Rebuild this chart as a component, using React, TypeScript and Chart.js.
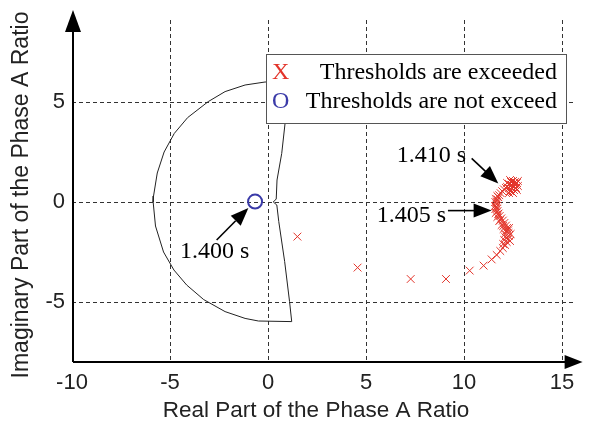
import React, { useEffect, useRef } from 'react';
import { Chart, registerables } from 'chart.js';

Chart.register(...registerables);

// ---- data ----
const xTicks = [-10, -5, 0, 5, 10, 15];
const yTicks = [-5, 0, 5];

// protection boundary (real, imaginary)
const boundaryRe = [-0.15, -1.17, -2.19, -3.05, -4.1, -4.78, -5.3, -5.65, -5.84, -5.86, -5.74, -5.33, -4.8, -4.15, -3.28, -2.19, -1.17, -0.49, 1.21, 1.1, 0.85, 0.55, 0.45, 0.27, 0.42, 0.46, 0.7, 0.87, 1.1, -0.15];
const boundaryIm = [6.0, 5.85, 5.52, 5.02, 4.22, 3.43, 2.5, 1.45, 0.3, 0.0, -1.2, -2.5, -3.4, -4.15, -4.88, -5.48, -5.82, -5.95, -5.98, -4.98, -2.98, -0.98, -0.15, 0.0, 0.15, 1.1, 2.43, 3.93, 6.0, 6.0];

// "thresholds are exceeded" samples
const exceededRe = [
  1.5, 4.57, 7.28, 9.08, 10.29, 11.0, 11.41, 11.67,
  11.85, 11.98, 12.1, 12.18, 12.24, 12.28, 12.27, 12.25, 12.2, 12.14, 12.06, 11.98, 11.9, 11.82, 11.76, 11.71, 11.68, 11.66, 11.66, 11.68, 11.71, 11.75, 11.8, 11.87, 11.95, 12.04, 12.14,
  12.0, 12.1, 12.15, 12.0, 11.85, 11.75, 11.6, 11.6, 11.7,
  12.05, 12.08, 12.02, 11.92, 11.8, 11.7, 11.62, 11.58, 11.62, 12.35, 12.38, 12.3,
  12.2, 12.3, 12.4, 12.5, 12.6, 12.7, 12.75, 12.65, 12.55, 12.45, 12.35, 12.3, 12.5, 12.6, 12.4, 12.2, 12.35, 12.55, 12.7, 12.5, 12.75, 12.3
];
const exceededIm = [
  -1.73, -3.28, -3.85, -3.85, -3.43, -3.18, -2.87, -2.65,
  -2.45, -2.3, -2.15, -2.0, -1.85, -1.7, -1.55, -1.42, -1.3, -1.18, -1.05, -0.93, -0.82, -0.7, -0.58, -0.46, -0.34, -0.22, -0.1, 0.02, 0.13, 0.24, 0.34, 0.44, 0.54, 0.63, 0.7,
  -2.1, -1.75, -1.45, -1.2, -0.9, -0.6, -0.35, 0.0, 0.3,
  -1.9, -1.6, -1.35, -1.15, -0.95, -0.75, -0.55, -0.2, 0.15, -1.95, -1.6, -1.3,
  0.75, 0.9, 1.0, 1.05, 1.0, 0.95, 0.8, 0.7, 0.6, 0.5, 0.55, 0.7, 0.8, 0.85, 0.85, 0.95, 1.1, 0.95, 0.6, 0.45, 1.05, 0.45
];

// "thresholds are not exceeded" sample
const notExceededRe = [-0.66];
const notExceededIm = [0.02];

const legendSymbols = ['X', 'O'];
const legendLabels = ['Thresholds are exceeded', 'Thresholds are not exceed'];

const annotationLabels = ['1.400 s', '1.405 s', '1.410 s'];
const annotationTextRe = [-4.49, 5.55, 6.57];
const annotationTextIm = [-2.8, -0.98, 2.0];
const arrowTailRe = [-2.62, 9.18, 10.39];
const arrowTailIm = [-1.9, -0.43, 2.18];
const arrowTipRe = [-1.0, 11.41, 11.75];
const arrowTipIm = [-0.3, -0.43, 0.93];

const xTitle = 'Real Part of the Phase A Ratio';
const yTitle = 'Imaginary Part of the Phase A Ratio';

const RED = '#e3342a';
const BLUE = '#3a3aa8';
const SANS = '"Liberation Sans", Arial, sans-serif';
const SERIF = '"Liberation Serif", "Times New Roman", serif';

function zip(a: number[], b: number[]) {
  return a.map((v, i) => ({ x: v, y: b[i] }));
}

function arrowHead(ctx: CanvasRenderingContext2D, x0: number, y0: number, x1: number, y1: number, len: number, half: number) {
  const ang = Math.atan2(y1 - y0, x1 - x0);
  const bx = x1 - len * Math.cos(ang);
  const by = y1 - len * Math.sin(ang);
  ctx.beginPath();
  ctx.moveTo(x1, y1);
  ctx.lineTo(bx + half * Math.sin(ang), by - half * Math.cos(ang));
  ctx.lineTo(bx - half * Math.sin(ang), by + half * Math.cos(ang));
  ctx.closePath();
  ctx.fill();
}

const decor = {
  id: 'decor',
  beforeDatasetsDraw(chart: any) {
    const { ctx, scales } = chart;
    const x = scales.x, y = scales.y;
    ctx.save();
    ctx.setLineDash([4, 3]);
    ctx.strokeStyle = '#333';
    ctx.lineWidth = 1;
    for (const t of xTicks) {
      if (t === xTicks[0]) continue;
      const px = Math.round(x.getPixelForValue(t)) + 0.5;
      ctx.beginPath();
      ctx.moveTo(px, y.getPixelForValue(9.1));
      ctx.lineTo(px, y.getPixelForValue(-8));
      ctx.stroke();
    }
    for (const t of yTicks) {
      const py = Math.round(y.getPixelForValue(t)) + 0.5;
      ctx.beginPath();
      ctx.moveTo(x.getPixelForValue(-10), py);
      ctx.lineTo(x.getPixelForValue(15.7), py);
      ctx.stroke();
    }
    ctx.restore();
  },
  afterDatasetsDraw(chart: any) {
    const { ctx, scales, chartArea } = chart;
    const x = scales.x, y = scales.y;
    ctx.save();
    // axes with arrows
    const ox = chartArea.left + 1;
    const oy = chartArea.bottom;
    ctx.strokeStyle = '#000';
    ctx.fillStyle = '#000';
    ctx.lineWidth = 2;
    ctx.beginPath();
    ctx.moveTo(ox, oy);
    ctx.lineTo(ox, chartArea.top + 10);
    ctx.moveTo(ox, oy);
    ctx.lineTo(chartArea.right - 8, oy);
    ctx.stroke();
    arrowHead(ctx, ox, oy, ox, chartArea.top, 22, 8);
    arrowHead(ctx, ox, oy, chartArea.right + 1, oy, 18, 7);

    // legend
    const lx = 266, ly = 54, lw = 300, lh = 69;
    ctx.fillStyle = '#fff';
    ctx.fillRect(lx, ly, lw, lh);
    ctx.strokeStyle = '#555';
    ctx.lineWidth = 1;
    ctx.strokeRect(lx + 0.5, ly + 0.5, lw, lh);
    ctx.font = `24px ${SERIF}`;
    ctx.textBaseline = 'middle';
    const rowsY = [ly + 19, ly + 48];
    const symColors = [RED, BLUE];
    legendSymbols.forEach((s, i) => {
      ctx.fillStyle = symColors[i];
      ctx.textAlign = 'left';
      ctx.fillText(s, lx + 6, rowsY[i]);
      ctx.fillStyle = '#000';
      ctx.textAlign = 'right';
      ctx.fillText(legendLabels[i], lx + lw - 9, rowsY[i]);
    });

    // annotations
    ctx.fillStyle = '#000';
    ctx.strokeStyle = '#000';
    ctx.lineWidth = 1.6;
    ctx.textAlign = 'left';
    ctx.textBaseline = 'alphabetic';
    annotationLabels.forEach((lab, i) => {
      ctx.fillText(lab, x.getPixelForValue(annotationTextRe[i]), y.getPixelForValue(annotationTextIm[i]));
      const x0 = x.getPixelForValue(arrowTailRe[i]);
      const y0 = y.getPixelForValue(arrowTailIm[i]);
      const x1 = x.getPixelForValue(arrowTipRe[i]);
      const y1 = y.getPixelForValue(arrowTipIm[i]);
      ctx.beginPath();
      ctx.moveTo(x0, y0);
      ctx.lineTo(x0 + (x1 - x0) * 0.6, y0 + (y1 - y0) * 0.6);
      ctx.stroke();
      arrowHead(ctx, x0, y0, x1, y1, 18, 7);
    });

    // axis titles
    ctx.fillStyle = '#222';
    ctx.font = `22.5px ${SANS}`;
    ctx.textAlign = 'center';
    ctx.textBaseline = 'middle';
    ctx.fillText(xTitle, 316, 411);
    ctx.font = `23px ${SANS}`;
    ctx.translate(22, 195);
    ctx.rotate(-Math.PI / 2);
    ctx.fillText(yTitle, 0, 0);
    ctx.restore();
  },
};

export default function App() {
  const ref = useRef<HTMLCanvasElement | null>(null);
  useEffect(() => {
    document.body.style.margin = '0';
    const canvas = ref.current;
    if (!canvas) return;
    const chart = new Chart(canvas, {
      type: 'scatter',
      data: {
        datasets: [
          {
            label: 'boundary',
            data: zip(boundaryRe, boundaryIm),
            showLine: true,
            borderColor: '#222',
            borderWidth: 1,
            pointRadius: 0,
            fill: false,
            tension: 0,
          },
          {
            label: legendLabels[0],
            data: zip(exceededRe, exceededIm),
            pointStyle: 'crossRot',
            pointRadius: 5.5,
            borderColor: RED,
            backgroundColor: RED,
            pointBorderWidth: 1,
            showLine: false,
          },
          {
            label: legendLabels[1],
            data: zip(notExceededRe, notExceededIm),
            pointStyle: 'circle',
            pointRadius: 7,
            borderColor: BLUE,
            backgroundColor: 'rgba(0,0,0,0)',
            pointBorderWidth: 2,
            showLine: false,
          },
        ],
      },
      options: {
        responsive: false,
        animation: false,
        events: [],
        layout: { padding: { top: 10, right: 18.4, left: 0, bottom: 0 } },
        plugins: { legend: { display: false }, tooltip: { enabled: false } },
        scales: {
          x: {
            type: 'linear',
            min: -10,
            max: 16,
            afterBuildTicks: (s: any) => { s.ticks = xTicks.map((v) => ({ value: v })); },
            afterFit: (s: any) => { s.height = 61; },
            grid: { display: false, drawTicks: false },
            border: { display: false },
            ticks: { font: { family: SANS, size: 22 }, color: '#222', padding: 8, maxRotation: 0, autoSkip: false },
          },
          y: {
            type: 'linear',
            min: -8,
            max: 9.6,
            afterBuildTicks: (s: any) => { s.ticks = yTicks.map((v) => ({ value: v })); },
            afterFit: (s: any) => { s.width = 72; },
            grid: { display: false, drawTicks: false },
            border: { display: false },
            ticks: { font: { family: SANS, size: 22, lineHeight: 0.1 }, color: '#222', padding: 7, autoSkip: false },
          },
        },
      },
      plugins: [decor],
    } as any);
    return () => chart.destroy();
  }, []);
  return (
    <div style={{ width: 600, height: 423 }}>
      <canvas ref={ref} width={600} height={423} style={{ display: 'block' }} />
    </div>
  );
}
